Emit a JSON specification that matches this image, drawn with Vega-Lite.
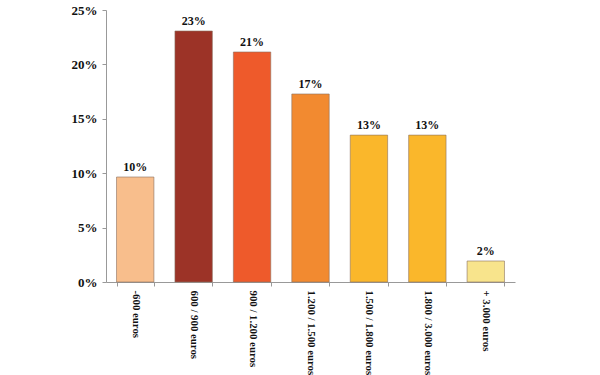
{
  "$schema": "https://vega.github.io/schema/vega-lite/v6.json",
  "width": 409,
  "height": 272,
  "autosize": {"type": "none"},
  "padding": {"left": 106, "top": 10, "right": 85, "bottom": 93},
  "background": "white",
  "config": {"view": {"stroke": null}},
  "data": {
    "values": [
      {"range": "-600 euros", "share": 0.0965, "label": "10%", "color": "#F8BE8C"},
      {"range": "600 / 900 euros", "share": 0.2307, "label": "23%", "color": "#9C3327"},
      {"range": "900 / 1.200 euros", "share": 0.2114, "label": "21%", "color": "#EE5A2B"},
      {"range": "1.200 / 1.500 euros", "share": 0.1728, "label": "17%", "color": "#F28A30"},
      {"range": "1.500 / 1.800 euros", "share": 0.135, "label": "13%", "color": "#FAB72B"},
      {"range": "1.800 / 3.000 euros", "share": 0.135, "label": "13%", "color": "#FAB72B"},
      {"range": "+ 3.000 euros", "share": 0.0193, "label": "2%", "color": "#F8E48C"}
    ]
  },
  "encoding": {
    "x": {
      "field": "range",
      "type": "nominal",
      "sort": null,
      "title": null,
      "scale": {"paddingInner": 0.36, "paddingOuter": 0.18},
      "axis": {
        "labelAngle": 90,
        "labelAlign": "left",
        "labelBaseline": "middle",
        "labelFont": "Times New Roman",
        "labelFontWeight": "bold",
        "labelFontSize": 10.8,
        "labelColor": "#111",
        "labelPadding": 4,
        "tickBand": "extent",
        "tickSize": 4,
        "tickColor": "#999",
        "domainColor": "#999",
        "labelLimit": 200
      }
    },
    "y": {
      "field": "share",
      "type": "quantitative",
      "title": null,
      "scale": {"domain": [0, 0.25], "nice": false},
      "axis": {
        "values": [0, 0.05, 0.1, 0.15, 0.2, 0.25],
        "format": ".0%",
        "grid": false,
        "labelFont": "Times New Roman",
        "labelFontWeight": "bold",
        "labelFontSize": 13,
        "labelColor": "#111",
        "labelPadding": 5,
        "tickSize": 4,
        "tickColor": "#999",
        "domainColor": "#999"
      }
    }
  },
  "layer": [
    {
      "mark": {"type": "bar", "stroke": "#8a7060", "strokeWidth": 0.6},
      "encoding": {
        "color": {"field": "color", "type": "nominal", "scale": null, "legend": null}
      }
    },
    {
      "mark": {
        "type": "text",
        "dy": -10,
        "font": "Times New Roman",
        "fontWeight": "bold",
        "fontSize": 12,
        "color": "#111"
      },
      "encoding": {"text": {"field": "label"}}
    }
  ]
}
